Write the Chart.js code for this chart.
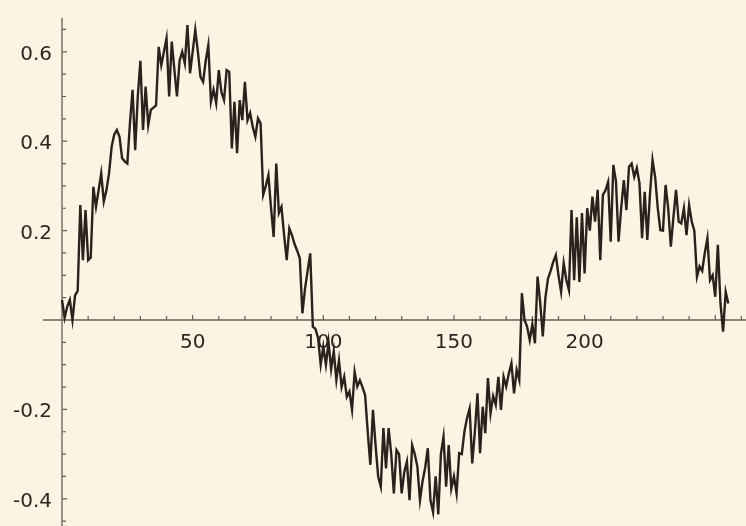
<!DOCTYPE html>
<html>
<head>
<meta charset="utf-8">
<script src="https://cdn.jsdelivr.net/npm/chart.js@4/dist/chart.umd.min.js"></script>
<style>
  html, body { margin: 0; padding: 0; background: #fcf4e3; }
  #c { display: block; }
</style>
</head>
<body>
<canvas id="c" width="746" height="526"></canvas>
<script>
// ---- data (index = x position) ----
const seriesValues = [
  0.045, 0.005, 0.03, 0.045, 0.0, 0.055, 0.065, 0.257, 0.134, 0.246,
  0.134, 0.14, 0.298, 0.253, 0.29, 0.328, 0.265, 0.29, 0.328, 0.388,
  0.415, 0.425, 0.41, 0.362, 0.355, 0.35, 0.44, 0.515, 0.38, 0.5,
  0.58, 0.425, 0.522, 0.436, 0.47, 0.475, 0.48, 0.611, 0.57, 0.6,
  0.63, 0.5, 0.623, 0.56, 0.5, 0.58, 0.6, 0.574, 0.66, 0.552,
  0.6, 0.649, 0.6, 0.544, 0.533, 0.58, 0.615, 0.488, 0.515, 0.485,
  0.559, 0.51, 0.492, 0.559, 0.555, 0.384, 0.488, 0.373, 0.492, 0.447,
  0.533, 0.447, 0.463, 0.432, 0.41, 0.451, 0.44, 0.28, 0.3, 0.324,
  0.25, 0.186, 0.35, 0.239, 0.253, 0.19, 0.134, 0.205, 0.19, 0.17,
  0.155, 0.138, 0.015, 0.07, 0.11, 0.149, -0.015, -0.02, -0.04, -0.1,
  -0.06, -0.1, -0.05, -0.11, -0.07, -0.134, -0.09, -0.15, -0.127, -0.172,
  -0.16, -0.201, -0.116, -0.149, -0.135, -0.15, -0.168, -0.25, -0.324, -0.201,
  -0.28, -0.35, -0.373, -0.242, -0.332, -0.242, -0.3, -0.388, -0.291, -0.3,
  -0.388, -0.34, -0.317, -0.403, -0.28, -0.3, -0.328, -0.403, -0.36, -0.33,
  -0.287, -0.403, -0.43, -0.35, -0.435, -0.3, -0.261, -0.373, -0.28, -0.377,
  -0.35, -0.388, -0.298, -0.3, -0.25, -0.22, -0.198, -0.321, -0.25, -0.164,
  -0.298, -0.194, -0.253, -0.13, -0.209, -0.17, -0.19, -0.127, -0.201, -0.127,
  -0.149, -0.12, -0.097, -0.164, -0.112, -0.134, 0.06, 0.0, -0.015, -0.045,
  -0.01, -0.052, 0.097, 0.04, -0.037, 0.05, 0.093, 0.11, 0.13, 0.145,
  0.1, 0.063, 0.127, 0.09, 0.067, 0.246, 0.089, 0.23, 0.085, 0.239,
  0.104, 0.25, 0.2, 0.276, 0.22, 0.291, 0.134, 0.28, 0.29, 0.309,
  0.175, 0.347, 0.31, 0.175, 0.25, 0.313, 0.246, 0.343, 0.35, 0.32,
  0.34, 0.306, 0.183, 0.287, 0.179, 0.28, 0.358, 0.32, 0.25, 0.201,
  0.2, 0.302, 0.25, 0.164, 0.23, 0.291, 0.22, 0.216, 0.25, 0.19,
  0.257, 0.22, 0.2, 0.097, 0.12, 0.11, 0.15, 0.183, 0.089, 0.1,
  0.052, 0.168, 0.037, -0.026, 0.063, 0.037
];
const xStart = 0;

// tick positions and labels
const xMajorTicks = [50, 100, 150, 200, 250];
const xMajorLabels = ['50', '100', '150', '200', ''];
const xMinorTicks = [10, 20, 30, 40, 60, 70, 80, 90, 110, 120, 130, 140, 160, 170, 180, 190, 210, 220, 230, 240, 260];
const yMajorTicks = [-0.4, -0.2, 0.2, 0.4, 0.6];
const yMajorLabels = ['-0.4', '-0.2', '0.2', '0.4', '0.6'];
const yMinorTicks = [-0.45, -0.35, -0.3, -0.25, -0.15, -0.1, -0.05, 0.05, 0.1, 0.15, 0.25, 0.3, 0.35, 0.45, 0.5, 0.55, 0.65];

// plot range (visible window) and axis extents
const xMin = -23.73, xMax = 261.77;
const yMin = -0.4609, yMax = 0.7159;
const xAxisFrom = -7.3;
const yAxisTop = 0.676;

const points = seriesValues.map((v, i) => ({ x: xStart + i, y: v }));

const axisColor = '#6a5c54';
const textColor = '#2e2520';
const fontSpec = '20px "DejaVu Sans", sans-serif';

const backgroundPlugin = {
  id: 'bg',
  beforeDraw(chart) {
    const ctx = chart.ctx;
    ctx.save();
    ctx.fillStyle = '#fcf4e3';
    ctx.fillRect(0, 0, chart.width, chart.height);
    ctx.restore();
  }
};

const axesPlugin = {
  id: 'crossAxes',
  beforeDatasetsDraw(chart) {
    const ctx = chart.ctx;
    const xs = chart.scales.x, ys = chart.scales.y;
    const y0 = ys.getPixelForValue(0);
    const x0 = xs.getPixelForValue(0);
    ctx.save();
    ctx.strokeStyle = axisColor;
    ctx.lineWidth = 1.3;
    // x axis
    ctx.beginPath();
    ctx.moveTo(xs.getPixelForValue(xAxisFrom), y0);
    ctx.lineTo(xs.getPixelForValue(xMax), y0);
    ctx.stroke();
    // y axis
    ctx.beginPath();
    ctx.moveTo(x0, ys.getPixelForValue(yAxisTop));
    ctx.lineTo(x0, ys.getPixelForValue(yMin));
    ctx.stroke();
    // ticks
    ctx.lineWidth = 1.2;
    ctx.beginPath();
    xMajorTicks.forEach(v => { const p = xs.getPixelForValue(v); ctx.moveTo(p, y0); ctx.lineTo(p, y0 - 5); });
    xMinorTicks.forEach(v => { const p = xs.getPixelForValue(v); ctx.moveTo(p, y0); ctx.lineTo(p, y0 - 4); });
    yMajorTicks.forEach(v => { const p = ys.getPixelForValue(v); ctx.moveTo(x0, p); ctx.lineTo(x0 + 5, p); });
    yMinorTicks.forEach(v => { const p = ys.getPixelForValue(v); ctx.moveTo(x0, p); ctx.lineTo(x0 + 4, p); });
    ctx.stroke();
    // labels
    ctx.fillStyle = textColor;
    ctx.font = fontSpec;
    ctx.textBaseline = 'alphabetic';
    ctx.textAlign = 'center';
    xMajorTicks.forEach((v, i) => {
      if (xMajorLabels[i]) ctx.fillText(xMajorLabels[i], xs.getPixelForValue(v), y0 + 28.5);
    });
    ctx.textAlign = 'right';
    yMajorTicks.forEach((v, i) => {
      if (yMajorLabels[i]) ctx.fillText(yMajorLabels[i], x0 - 10, ys.getPixelForValue(v) + 8);
    });
    ctx.restore();
  }
};

new Chart(document.getElementById('c'), {
  type: 'line',
  data: {
    datasets: [{
      data: points,
      borderColor: '#2b211d',
      borderWidth: 2.4,
      pointRadius: 0,
      tension: 0,
      fill: false
    }]
  },
  options: {
    responsive: false,
    animation: false,
    devicePixelRatio: 1,
    layout: { padding: 0 },
    plugins: { legend: { display: false }, tooltip: { enabled: false } },
    scales: {
      x: { type: 'linear', min: xMin, max: xMax, display: false,
           afterFit(s) { s.paddingLeft = 0; s.paddingRight = 0; } },
      y: { type: 'linear', min: yMin, max: yMax, display: false,
           afterFit(s) { s.paddingTop = 0; s.paddingBottom = 0; } }
    }
  },
  plugins: [backgroundPlugin, axesPlugin]
});
</script>
</body>
</html>
